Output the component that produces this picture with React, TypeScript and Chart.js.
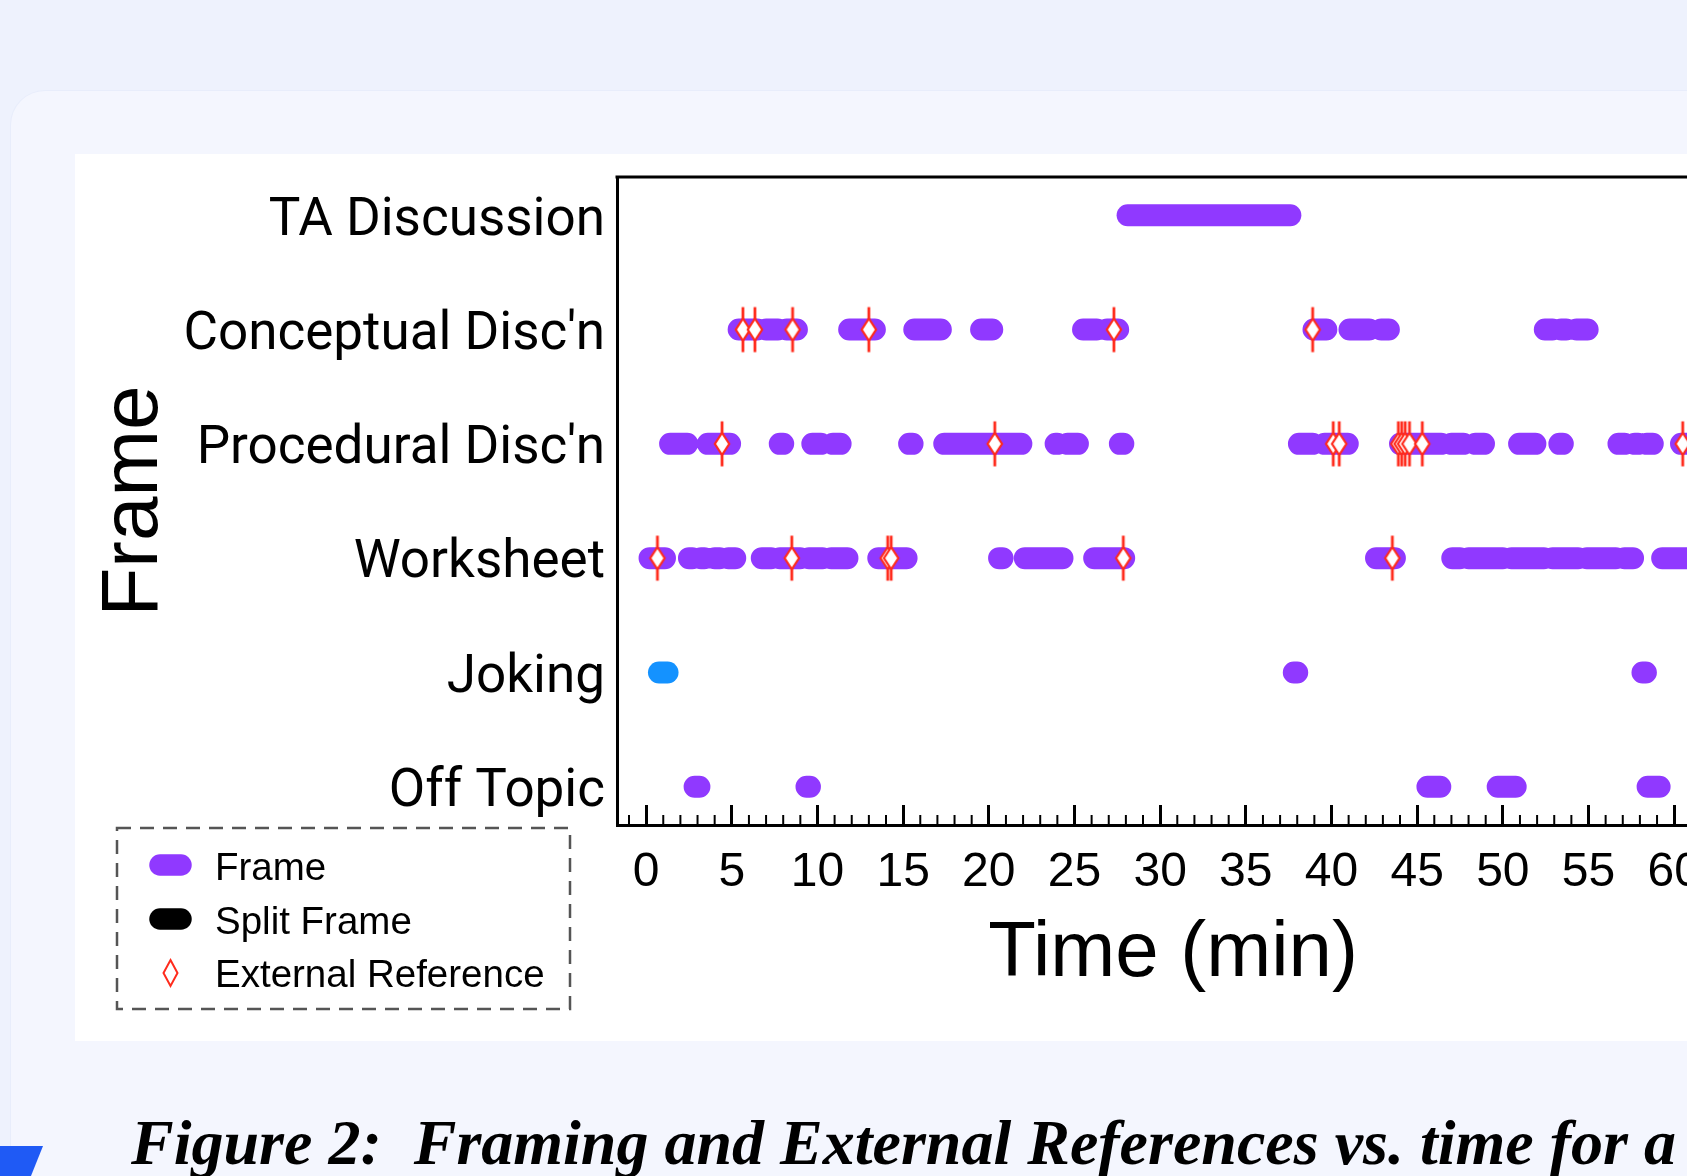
import React, { useEffect, useRef } from "react";
import { Chart, registerables } from "chart.js";

Chart.register(...registerables);

// ---------- data (minutes) ----------
const frameNames = ["TA Discussion", "Conceptual Disc'n", "Procedural Disc'n", "Worksheet", "Joking", "Off Topic"];
const xTickValues = [0, 5, 10, 15, 20, 25, 30, 35, 40, 45, 50, 55, 60];

const taDiscussionFrames = [[28.1, 37.6]];
const conceptualFrames = [
  [5.4, 6.5], [7.0, 7.7], [8.2, 8.8], [11.85, 13.35], [15.65, 17.2], [19.55, 20.2], [25.5, 26.3], [26.9, 27.55],
  [38.95, 39.7], [41.05, 42.2], [42.9, 43.35], [52.45, 52.9], [53.4, 53.7], [54.3, 54.95],
];
const conceptualRefs = [5.65, 6.35, 8.55, 13.0, 27.3, 38.9];
const proceduralFrames = [
  [1.4, 2.4], [3.6, 4.9], [7.8, 8.0], [9.7, 10.2], [10.9, 11.35], [15.35, 15.55], [17.4, 21.9],
  [23.9, 24.0], [24.6, 25.2], [27.65, 27.85], [38.1, 38.9], [39.6, 40.95], [44.0, 46.4], [47.0, 47.7], [48.4, 48.9],
  [50.95, 51.9], [53.3, 53.5], [56.75, 57.1], [57.7, 57.9], [58.4, 58.75], [60.4, 61.5],
];
const proceduralRefs = [4.43, 20.35, 40.1, 40.45, 43.9, 44.1, 44.3, 44.55, 45.3, 60.5];
const worksheetFrames = [
  [0.2, 1.1], [2.5, 2.7], [3.2, 3.4], [4.0, 4.3], [4.8, 5.2], [6.75, 7.3], [7.8, 9.0], [9.5, 10.3], [10.8, 11.75],
  [13.55, 15.2], [20.6, 20.8], [22.1, 24.3], [26.15, 27.9], [42.6, 43.7],
  [47.05, 47.5], [48.0, 50.0], [50.5, 52.4], [52.9, 54.4], [54.9, 56.6], [57.1, 57.6], [59.3, 61.5],
];
const worksheetRefs = [0.66, 8.5, 14.1, 14.3, 27.85, 43.55];
const jokingFrames = [[37.8, 38.0], [58.15, 58.35]];
const jokingHighlight = [[0.75, 1.25]];
const offTopicFrames = [[2.83, 3.11], [9.36, 9.56], [45.6, 46.35], [49.7, 50.75], [58.45, 59.15]];

// ---------- styling ----------
const PURPLE = "#9039ff";
const BLUE = "#1492ff";
const RED = "#ff2b1c";
const SANS = '"Liberation Sans", Arial, Helvetica, sans-serif';
const LABEL_FONT = 'Roboto, "Liberation Sans", Arial, sans-serif';

const rowValue = (name: string) => frameNames.length - frameNames.indexOf(name);

function segmentPoints(row: number, segs: number[][]) {
  const pts: { x: number; y: number | null }[] = [];
  segs.forEach(([s, e]) => {
    pts.push({ x: s, y: row }, { x: e, y: row }, { x: e, y: null });
  });
  return pts;
}

function makeRefMarker() {
  const c = document.createElement("canvas");
  c.width = 20;
  c.height = 48;
  const g = c.getContext("2d")!;
  g.strokeStyle = RED;
  g.lineWidth = 2.8;
  g.beginPath();
  g.moveTo(10, 1.5);
  g.lineTo(10, 46.5);
  g.stroke();
  g.beginPath();
  g.moveTo(10, 13);
  g.lineTo(17.2, 24);
  g.lineTo(10, 35);
  g.lineTo(2.8, 24);
  g.closePath();
  g.fillStyle = "#fff";
  g.fill();
  g.lineWidth = 2.2;
  g.stroke();
  return c;
}

const frameBorderPlugin = {
  id: "frameBorder",
  afterDraw(chart: any) {
    const { ctx, chartArea } = chart;
    ctx.save();
    ctx.strokeStyle = "#000";
    ctx.lineWidth = 3;
    ctx.beginPath();
    ctx.moveTo(chartArea.left - 1.5, chartArea.top);
    ctx.lineTo(chartArea.right, chartArea.top);
    ctx.stroke();
    // minor ticks every minute
    const xs = chart.scales.x;
    ctx.lineWidth = 2;
    for (let v = Math.ceil(xs.min); v <= Math.floor(xs.max); v++) {
      if (v % 5 === 0) continue;
      const px = xs.getPixelForValue(v);
      ctx.beginPath();
      ctx.moveTo(px, chartArea.bottom);
      ctx.lineTo(px, chartArea.bottom - 10);
      ctx.stroke();
    }
    ctx.restore();
  },
};

const legendBoxPlugin = {
  id: "legendBox",
  afterDraw(chart: any) {
    const ctx = chart.ctx;
    ctx.save();
    ctx.setLineDash([14, 9]);
    ctx.strokeStyle = "#555";
    ctx.lineWidth = 2.5;
    ctx.strokeRect(42, 674, 453, 181);
    ctx.setLineDash([]);
    const cx = 95.5;
    const pill = (y: number, color: string) => {
      ctx.strokeStyle = color;
      ctx.lineCap = "round";
      ctx.lineWidth = 21.5;
      ctx.beginPath();
      ctx.moveTo(cx - 10.5, y);
      ctx.lineTo(cx + 10.5, y);
      ctx.stroke();
    };
    pill(711, PURPLE);
    pill(765, "#000");
    // diamond
    ctx.beginPath();
    ctx.moveTo(cx, 806);
    ctx.lineTo(cx + 7, 819);
    ctx.lineTo(cx, 832);
    ctx.lineTo(cx - 7, 819);
    ctx.closePath();
    ctx.fillStyle = "#fff";
    ctx.fill();
    ctx.strokeStyle = RED;
    ctx.lineWidth = 2;
    ctx.stroke();
    ctx.fillStyle = "#000";
    ctx.font = `38.5px ${SANS}`;
    ctx.textBaseline = "alphabetic";
    ctx.textAlign = "left";
    ctx.fillText("Frame", 140, 726);
    ctx.fillText("Split Frame", 140, 779.5);
    ctx.fillText("External Reference", 140, 833);
    ctx.restore();
  },
};

function FrameChart() {
  const ref = useRef<HTMLCanvasElement | null>(null);
  useEffect(() => {
    const canvas = ref.current!;
    const marker = makeRefMarker();
    const lineDs = (label: string, row: number, segs: number[][], color: string) => ({
      type: "line" as const,
      label,
      data: segmentPoints(row, segs),
      borderColor: color,
      backgroundColor: color,
      borderWidth: 22,
      borderCapStyle: "round" as const,
      borderJoinStyle: "round" as const,
      pointRadius: 0,
      spanGaps: false,
      tension: 0,
      fill: false,
      order: 1,
    });
    const refPoints = [
      ...conceptualRefs.map((x) => ({ x, y: rowValue("Conceptual Disc'n") })),
      ...proceduralRefs.map((x) => ({ x, y: rowValue("Procedural Disc'n") })),
      ...worksheetRefs.map((x) => ({ x, y: rowValue("Worksheet") })),
    ];
    const datasets: any[] = [
      {
        type: "line",
        label: "External Reference",
        data: refPoints,
        showLine: false,
        pointStyle: marker,
        pointRadius: 10,
        order: 0,
      },
      lineDs("TA Discussion", rowValue("TA Discussion"), taDiscussionFrames, PURPLE),
      lineDs("Conceptual Disc'n", rowValue("Conceptual Disc'n"), conceptualFrames, PURPLE),
      lineDs("Procedural Disc'n", rowValue("Procedural Disc'n"), proceduralFrames, PURPLE),
      lineDs("Worksheet", rowValue("Worksheet"), worksheetFrames, PURPLE),
      lineDs("Joking", rowValue("Joking"), jokingFrames, PURPLE),
      lineDs("Joking (highlight)", rowValue("Joking"), jokingHighlight, BLUE),
      lineDs("Off Topic", rowValue("Off Topic"), offTopicFrames, PURPLE),
    ];
    const chart = new Chart(canvas, {
      type: "line",
      data: { datasets },
      options: {
        animation: false,
        responsive: false,
        events: [],
        layout: { padding: { top: 23, right: 46, bottom: 0, left: 0 } },
        plugins: { legend: { display: false }, tooltip: { enabled: false } },
        scales: {
          x: {
            type: "linear",
            min: -1.7,
            max: 63.2,
            position: "bottom",
            afterBuildTicks: (s: any) => {
              s.ticks = xTickValues.map((v) => ({ value: v }));
            },
            afterFit: (s: any) => {
              s.height = 216;
              s.paddingLeft = 0;
              s.paddingRight = 0;
            },
            grid: { display: true, drawOnChartArea: false, drawTicks: true, tickLength: -20, tickColor: "#000", tickWidth: 3 },
            border: { display: true, color: "#000", width: 3 },
            ticks: {
              color: "#000",
              font: { family: SANS, size: 48 },
              padding: 39,
              maxRotation: 0,
              autoSkip: false,
              callback: (v: any) => String(v),
            },
            title: {
              display: true,
              text: "Time (min)",
              color: "#000",
              font: { family: SANS, size: 78 },
              padding: { top: 0, bottom: 40 },
            },
          },
          y: {
            type: "linear",
            min: 0.665,
            max: 6.335,
            afterBuildTicks: (s: any) => {
              s.ticks = frameNames.map((_, i) => ({ value: frameNames.length - i }));
            },
            afterFit: (s: any) => {
              s.width = 542;
              s.paddingTop = 0;
              s.paddingBottom = 0;
            },
            grid: { display: false, drawTicks: false },
            border: { display: true, color: "#000", width: 3 },
            ticks: {
              color: "#000",
              font: { family: LABEL_FONT, size: 53 },
              padding: 12,
              labelOffset: 6,
              autoSkip: false,
              callback: (v: any) => frameNames[frameNames.length - Math.round(Number(v))],
            },
            title: {
              display: true,
              text: "Frame",
              color: "#000",
              font: { family: SANS, size: 80 },
              padding: { top: 12, bottom: 0 },
            },
          },
        },
      } as any,
      plugins: [frameBorderPlugin, legendBoxPlugin],
    });
    return () => chart.destroy();
  }, []);
  return <canvas ref={ref} width={1700} height={887} style={{ width: 1700, height: 887, display: "block" }} />;
}

export default function App() {
  return (
    <div style={{ position: "fixed", inset: 0, background: "#eef2fd", overflow: "hidden" }}>
      <div
        style={{
          position: "absolute",
          left: 11,
          top: 91,
          right: -60,
          bottom: -60,
          borderRadius: 34,
          background: "#f4f6fe",
          boxShadow: "0 0 0 1px #e8edfb",
        }}
      />
      <div style={{ position: "absolute", left: 75, top: 154, right: 0, height: 887, background: "#fff", overflow: "hidden" }}>
        <FrameChart />
      </div>
      <div
        style={{
          position: "absolute",
          left: 131,
          top: 1111,
          fontFamily: '"Liberation Serif", "Times New Roman", serif',
          fontWeight: "bold",
          fontStyle: "italic",
          fontSize: 64,
          lineHeight: 1,
          whiteSpace: "pre",
          color: "#000",
        }}
      >
        {"Figure 2:  Framing and External References vs. time for a"}
      </div>
      <div
        style={{
          position: "absolute",
          left: 0,
          top: 1146,
          width: 43,
          height: 30,
          background: "#1f5af5",
          clipPath: "polygon(0 0, 100% 0, 72% 100%, 0 100%)",
        }}
      />
    </div>
  );
}
